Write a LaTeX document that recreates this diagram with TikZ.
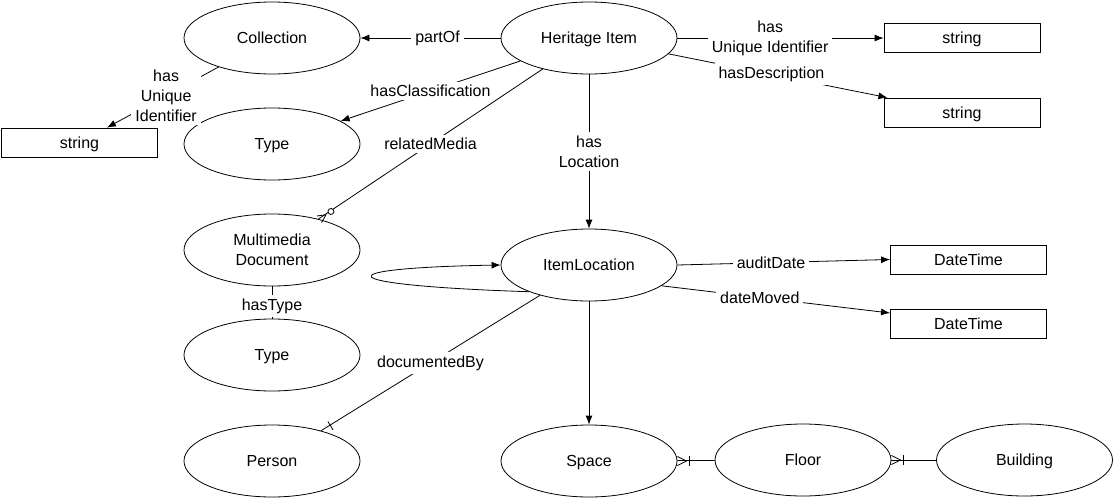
\documentclass[tikz,border=0pt]{standalone}
\usepackage{fontspec}
\setmainfont{Liberation Sans}
\usetikzlibrary{shapes, arrows.meta, positioning, calc}

\tikzset{
	entity/.style={draw, ellipse, line width=0.8pt,
		minimum width=176pt, minimum height=72pt,
		inner sep=0pt, text depth=0pt, align=center},
	literal/.style={draw, rectangle, line width=0.8pt,
		minimum width=156pt, minimum height=29pt,
		inner sep=0pt, text depth=0pt},
	rel/.style={fill=white, align=center, inner xsep=4pt, inner ysep=3.5pt},
	link/.style={line width=0.8pt},
	pointer/.style={-{Latex[length=9pt,width=7pt]}},
	% crow's foot ends
	manyone/.pic={
		\draw[link] (0pt,-4.5pt) -- (9pt,0pt) -- (0pt,4.5pt);
		\draw[link] (12pt,-5pt) -- (12pt,5pt);
	},
	zeromany/.pic={
		\draw[link] (0pt,-4pt) -- (8pt,0pt) -- (0pt,4pt);
		\draw[link, fill=white] (14pt,0pt) circle (3pt);
	},
	onebar/.pic={
		\draw[link] (10pt,-5pt) -- (10pt,5pt);
	}
}

\begin{document}
\begin{tikzpicture}[x=1pt, y=-1pt, font=\fontsize{16pt}{20pt}\selectfont]
	\useasboundingbox (0,0) rectangle (1113,498);
	% draw entities
	\node[entity] (collection) at (272,38) {Collection};
	\node[entity] (heritage) at (589,38) {Heritage Item};
	\node[entity] (type1) at (272,144) {Type};
	\node[entity] (mmdoc) at (272,250) {Multimedia\\Document};
	\node[entity] (type2) at (272,355) {Type};
	\node[entity] (person) at (272,461) {Person};
	\node[entity] (itemloc) at (589,265) {ItemLocation};
	\node[entity] (space) at (589,461) {Space};
	\node[entity] (floor) at (803,460) {Floor};
	\node[entity] (building) at (1024.5,460) {Building};
	% draw literals
	\node[literal] (idstr) at (962,38) {string};
	\node[literal] (descstr) at (962,112.5) {string};
	\node[literal] (colidstr) at (79.5,142.5) {string};
	\node[literal] (audit) at (968.5,259.5) {DateTime};
	\node[literal] (moved) at (968.5,323.5) {DateTime};
	% Heritage Item links
	\draw[link, pointer] (heritage) -- node[rel, pos=0.45] {partOf} (collection);
	\draw[link, pointer] (heritage) -- node[rel, pos=0.45] {has\\Unique Identifier} (idstr);
	\draw[link, pointer] (heritage) -- node[rel, pos=0.47] {hasDescription} (descstr);
	\draw[link, pointer] (heritage) -- node[rel] {hasClassification} (type1);
	\draw[link] (heritage) -- node[rel] {relatedMedia} (mmdoc);
	\pic[rotate=33.8] at (mmdoc.33.8) {zeromany};
	\draw[link, pointer] (heritage) -- node[rel] {has\\Location} (itemloc);
	\draw[link, pointer] (collection) -- node[rel, pos=0.47] {has\\Unique\\Identifier} (colidstr);
	\draw[link] (mmdoc) -- node[rel, pos=0.62] {hasType} (type2);
	% ItemLocation links
	\draw[link, pointer] (itemloc.204) .. controls (325,285) and (325,268) .. (itemloc.west);
	\draw[link, pointer] (itemloc.east) -- node[rel, pos=0.44] {auditDate} (audit.west);
	\draw[link, pointer] (itemloc.-16.6) -- node[rel, pos=0.43] {dateMoved} ([yshift=10.5pt]moved.west);
	\draw[link] (itemloc) -- node[rel] {documentedBy} (person);
	\pic[rotate=31.7] at (person.31.7) {onebar};
	\draw[link, pointer] (itemloc) -- (space);
	% Space, Floor, Building
	\draw[link] (floor) -- (space);
	\pic at (space.east) {manyone};
	\draw[link] (building) -- (floor);
	\pic at (floor.east) {manyone};
\end{tikzpicture}
\end{document}
